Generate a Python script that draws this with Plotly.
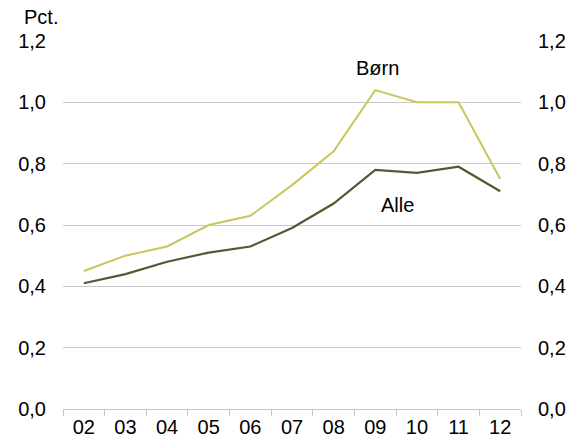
"""
Line chart: share (pct.) for children vs. all, 2002-2012.
"""
import plotly.graph_objects as go

years = ['02', '03', '04', '05', '06', '07', '08', '09', '10', '11', '12']
born = [0.45, 0.50, 0.53, 0.60, 0.63, 0.73, 0.84, 1.04, 1.00, 1.00, 0.75]
alle = [0.41, 0.44, 0.48, 0.51, 0.53, 0.59, 0.67, 0.78, 0.77, 0.79, 0.71]
y_ticks = [0, 0.2, 0.4, 0.6, 0.8, 1.0, 1.2]

FONT = 'Liberation Sans, Arial, sans-serif'
GRID = '#c8c8c8'
FS = 20

fig = go.Figure()
fig.add_trace(go.Scatter(x=years, y=born, mode='lines', name='Børn',
                         line=dict(color='#c9c65c', width=2)))
fig.add_trace(go.Scatter(x=years, y=alle, mode='lines', name='Alle',
                         line=dict(color='#5b5631', width=2.2)))
# invisible trace to drive the right-hand axis
fig.add_trace(go.Scatter(x=years, y=alle, yaxis='y2', mode='lines',
                         line=dict(width=0), hoverinfo='skip', showlegend=False,
                         opacity=0))

yax = dict(range=[0, 1.2], tickvals=y_ticks, tickformat='.1f',
           showgrid=True, gridcolor=GRID, gridwidth=1, zeroline=False,
           showline=False, ticks='', ticklabelstandoff=16, automargin=False,
           tickfont=dict(size=FS, color='#000000', family=FONT))

# label anchor: category index of '09'
i09 = years.index('09')

fig.update_layout(
    width=579, height=445,
    margin=dict(l=63, r=58, t=41, b=36),
    paper_bgcolor='white', plot_bgcolor='white',
    separators=',.',
    showlegend=False,
    font=dict(family=FONT, size=FS, color='#000000'),
    xaxis=dict(type='category', range=[-0.5, 10.5], showgrid=False,
               showline=True, linecolor=GRID, linewidth=1, ticks='outside',
               tickson='boundaries', ticklen=6, tickcolor=GRID, automargin=False,
               tickfont=dict(size=FS, color='#000000', family=FONT)),
    yaxis=yax,
    yaxis2=dict(yax, overlaying='y', side='right', showgrid=False),
    annotations=[
        dict(text='Pct.', xref='paper', yref='paper', x=-0.089, y=1.065,
             xanchor='left', yanchor='middle', showarrow=False,
             font=dict(size=FS, family=FONT)),
        dict(text='Børn', x=i09, y=1.112, xref='x', yref='y', xshift=2,
             showarrow=False, font=dict(size=FS, family=FONT)),
        dict(text='Alle', x=i09, y=0.665, xref='x', yref='y', xshift=22,
             showarrow=False, font=dict(size=FS, family=FONT)),
    ],
)

# drop the default page margin so the figure sits at the window's corner
fig.write_html("out.html", config={'displayModeBar': False},
               post_script="document.body.style.margin='0px';")
